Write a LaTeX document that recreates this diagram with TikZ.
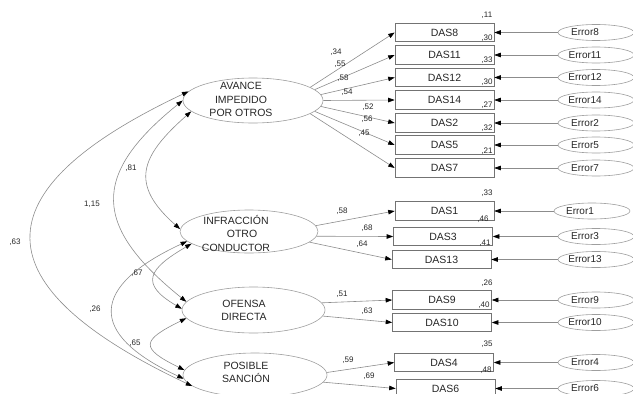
\documentclass[tikz,border=0pt]{standalone}
\usepackage{fontspec}
\setmainfont{Liberation Sans}
\usetikzlibrary{arrows.meta,shapes.geometric}
\definecolor{ln}{gray}{0.55}
\definecolor{bx}{gray}{0.45}
\definecolor{el}{gray}{0.62}
\definecolor{tx}{gray}{0.15}
\begin{document}
\begin{tikzpicture}[x=1pt,y=-1pt,
  >={Triangle[length=6.5pt,width=4.5pt,color=black]},
  latent/.style={ellipse,draw=el,line width=0.6pt,inner sep=0pt},
  lattext/.style={align=center,text=tx,inner sep=0pt,font=\fontsize{10.5}{13.5}\selectfont},
  obs/.style={rectangle,draw=bx,line width=0.6pt,inner sep=0pt,minimum width=99pt,minimum height=18.5pt,text=tx,font=\fontsize{10.5}{12}\selectfont},
  err/.style={ellipse,draw=el,line width=0.6pt,inner sep=0pt,minimum width=76pt,minimum height=16pt},
  errtext/.style={text=tx,inner sep=0pt,font=\fontsize{10}{12}\selectfont},
  num/.style={text=tx,inner sep=0pt,font=\fontsize{8}{9}\selectfont},
  path/.style={draw=ln,line width=0.6pt,->},
  cov/.style={draw=ln,line width=0.6pt,<->}]
\useasboundingbox (0,0) rectangle (633,394);
\clip (0,0) rectangle (633,394);

% latent variables
\node[latent,minimum width=140pt,minimum height=45pt] (A) at (253,100.5) {};
\node[lattext] (At) at (241,99.5) {AVANCE\\IMPEDIDO\\POR OTROS};
\node[latent,minimum width=138pt,minimum height=43pt] (I) at (249,231.5) {};
\node[lattext] (It) at (236,233) {INFRACCIÓN\\\hspace*{12pt}OTRO\\CONDUCTOR};
\node[latent,minimum width=143pt,minimum height=46pt] (O) at (253.5,310) {};
\node[lattext] (Ot) at (244,310.5) {OFENSA\\DIRECTA};
\node[latent,minimum width=144pt,minimum height=44pt] (P) at (255,375) {};
\node[lattext] (Pt) at (246,372.5) {POSIBLE\\SANCIÓN};

% observed variables
\node[obs] (d8) at (444.5,32.5) {DAS8};
\node[obs] (d11) at (444.5,55) {DAS11};
\node[obs] (d12) at (444.5,77.5) {DAS12};
\node[obs] (d14) at (444.5,100) {DAS14};
\node[obs] (d2) at (444.5,123) {DAS2};
\node[obs] (d5) at (444.5,145) {DAS5};
\node[obs] (d7) at (444.5,168) {DAS7};
\node[obs] (d1) at (444.5,211) {DAS1};
\node[obs] (d3) at (443,236.5) {DAS3};
\node[obs] (d13) at (441.5,259.5) {DAS13};
\node[obs] (d9) at (442,300) {DAS9};
\node[obs] (d10) at (442,322.5) {DAS10};
\node[obs] (d4) at (444,362.5) {DAS4};
\node[obs] (d6) at (445.5,388.5) {DAS6};

% error terms
\foreach \n/\y in {8/32.5,11/55,12/77.5,14/100,2/123,5/145,7/168,3/236.5,13/259.5,9/300,10/322.5,4/362.5,6/388.5}{
  \node[err] (e\n) at (596,\y) {};
  \node[errtext] (e\n t) at (585,\y) {Error\n};
  \draw[path] (e\n) -- (d\n.east);
}
\node[err] (e1) at (592,211) {};
\node[errtext] (e1t) at (580,211) {Error1};
\draw[path] (e1) -- (d1.east);

% squared multiple correlations
\node[num] (r8) at (487,15) {,11};
\node[num] (r11) at (487,38) {,30};
\node[num] (r12) at (487,60.5) {,33};
\node[num] (r14) at (487,82) {,30};
\node[num] (r2) at (487,105.5) {,27};
\node[num] (r5) at (487,128) {,32};
\node[num] (r7) at (487,151) {,21};
\node[num] (r1) at (487,193) {,33};
\node[num] (r3) at (483,219) {,46};
\node[num] (r13) at (485,243) {,41};
\node[num] (r9) at (487,283) {,26};
\node[num] (r10) at (484,305) {,40};
\node[num] (r4) at (487,344) {,35};
\node[num] (r6) at (486,370) {,48};

% loadings
\draw[path] (A.13) -- (d8.west);
\draw[path] (A.10) -- (d11.west);
\draw[path] (A.5) -- (d12.west);
\draw[path] (A.0) -- (d14.west);
\draw[path] (A.-5) -- (d2.west);
\draw[path] (A.-10) -- (d5.west);
\draw[path] (A.-13) -- (d7.west);
\draw[path] (I.5) -- (d1.west);
\draw[path] (I.-4) -- (d3.west);
\draw[path] (I.-10) -- (d13.west);
\draw[path] (O.6) -- (d9.west);
\draw[path] (O.-5) -- (d10.west);
\draw[path] (P.2) -- (d4.west);
\draw[path] (P.-6) -- (d6.west);

\node[num] (l8) at (336,52) {,34};
\node[num] (l11) at (340,64) {,55};
\node[num] (l12) at (343,78) {,58};
\node[num] (l14) at (347,92) {,54};
\node[num] (l2) at (368,107) {,52};
\node[num] (l5) at (367,119) {,56};
\node[num] (l7) at (364,133) {,45};
\node[num] (l1) at (342,211) {,58};
\node[num] (l3) at (367,228) {,68};
\node[num] (l13) at (362,244) {,64};
\node[num] (l9) at (342,294) {,51};
\node[num] (l10) at (367,311) {,63};
\node[num] (l4) at (348,360) {,59};
\node[num] (l6) at (369,376) {,69};

% covariances
\draw[cov] (A.172) .. controls +(-212,100) and +(-212,-100) .. (P.190);
\draw[cov] (A.180) .. controls +(-93,75) and +(-93,-75) .. (O.173);
\draw[cov] (A.190) .. controls +(-51,45) and +(-51,-45) .. (I.178);
\draw[cov] (I.189) .. controls +(-97,45) and +(-97,-45) .. (P.183);
\draw[cov] (I.192) .. controls +(-43,25) and +(-43,-25) .. (O.179);
\draw[cov] (O.187) .. controls +(-45,22) and +(-45,-22) .. (P.176);

\node[num] (c1) at (15,242) {,63};
\node[num] (c2) at (92,204) {1,15};
\node[num] (c3) at (131,168) {,81};
\node[num] (c4) at (95,309) {,26};
\node[num] (c5) at (137,273) {,67};
\node[num] (c6) at (135,343) {,65};
\end{tikzpicture}
\end{document}
